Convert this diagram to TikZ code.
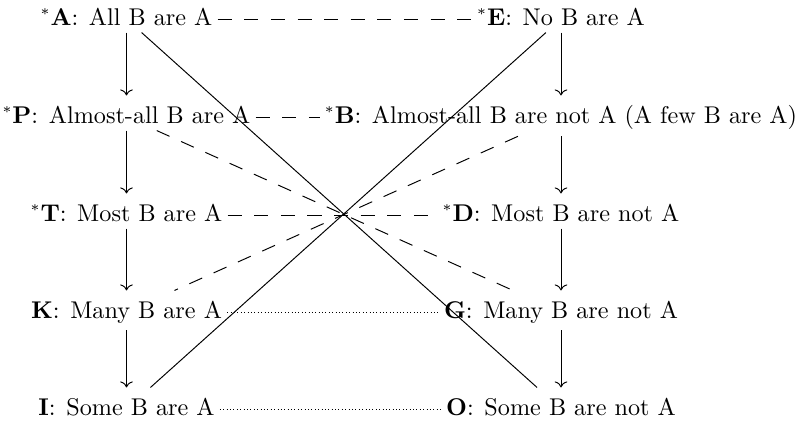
\documentclass[tikz,border=0pt]{standalone}
\usetikzlibrary{cd}
\newcommand\starmark{\raisebox{2.4pt}{\fontsize{6}{6}\selectfont *}\kern0.4pt}
\newcommand\plab[2]{\textbf{#1}:\hspace{4.4pt}#2}
\begin{document}
\begin{tikzpicture}[x=0.41322pt,y=-0.41322pt,
  cell/.style={shape=asymmetrical rectangle, inner xsep=2pt, inner ysep=2.8pt, text height=8.4pt},
  imp/.style={-{cm to}},
  dsh/.style={dash pattern=on 5.8pt off 5.2pt},
  dot/.style={densely dotted}]
\useasboundingbox (0,0) rectangle (798,424);
\node[cell] (A) at (126.5,19) {\starmark\plab{A}{All B are A}};
\node[cell] (E) at (561,19) {\starmark\plab{E}{No B are A}};
\node[cell] (P) at (126.5,117) {\starmark\plab{P}{Almost-all B are A}};
\node[cell] (B) at (561,117) {\starmark\plab{B}{Almost-all B are not A (A few B are A)}};
\node[cell] (T) at (126.5,215) {\starmark\plab{T}{Most B are A}};
\node[cell] (D) at (561,215) {\starmark\plab{D}{Most B are not A}};
\node[cell] (K) at (126.5,312) {\plab{K}{Many B are A}};
\node[cell] (G) at (561,312) {\plab{G}{Many B are not A}};
\node[cell] (I) at (126.5,409) {\plab{I}{Some B are A}};
\node[cell] (O) at (561,409) {\plab{O}{Some B are not A}};
\draw[imp] (A) -- (P);
\draw[imp] (P) -- (T);
\draw[imp] (T) -- (K);
\draw[imp] (K) -- (I);
\draw[imp] (E) -- (B);
\draw[imp] (B) -- (D);
\draw[imp] (D) -- (G);
\draw[imp] (G) -- (O);
\draw[dsh] (A) -- (E);
\draw[dsh] (P) -- (B);
\draw[dsh] (T) -- (D);
\draw[dsh] (P) -- (G);
\draw[dsh] (B) -- (K);
\draw (A) -- (O);
\draw (E) -- (I);
\draw[dot] (K) -- (G);
\draw[dot] (I) -- (O);
\end{tikzpicture}
\end{document}
